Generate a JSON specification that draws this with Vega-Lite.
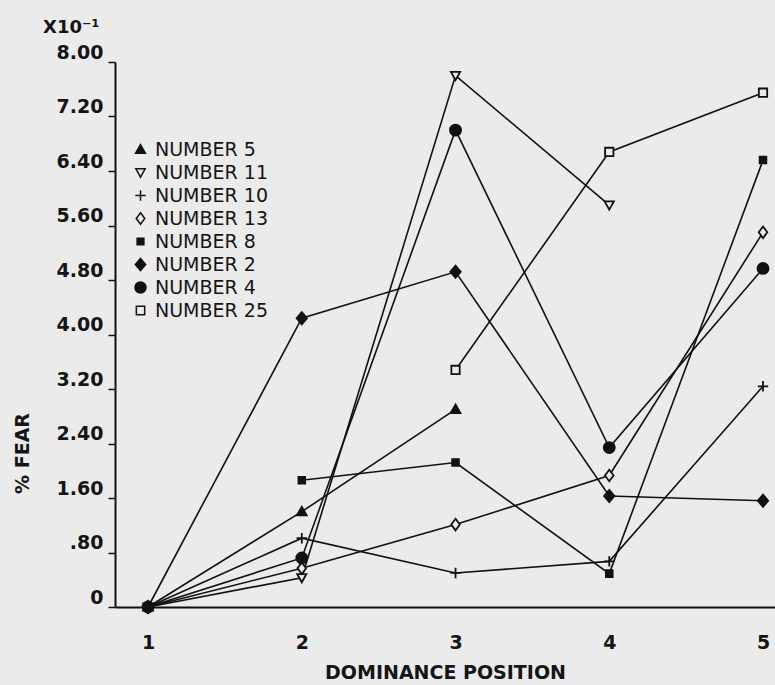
{
  "$schema": "https://vega.github.io/schema/vega-lite/v6.json",
  "width": 660,
  "height": 545,
  "autosize": "none",
  "padding": {"left": 115, "top": 62, "right": 0, "bottom": 78},
  "background": "#ebebeb",
  "title": {
    "text": "X10⁻¹",
    "anchor": "start",
    "frame": "group",
    "dx": -72,
    "offset": 6,
    "font": "DejaVu Sans",
    "fontSize": 18,
    "fontWeight": "bold",
    "color": "#151515"
  },
  "config": {
    "view": {"stroke": null},
    "axis": {
      "grid": false,
      "domainColor": "#111",
      "domainWidth": 2,
      "tickColor": "#111",
      "tickWidth": 1.5,
      "labelFont": "DejaVu Sans",
      "labelFontSize": 19,
      "labelFontWeight": "bold",
      "labelColor": "#151515",
      "titleFont": "DejaVu Sans",
      "titleFontSize": 19,
      "titleFontWeight": "bold",
      "titleColor": "#151515"
    }
  },
  "data": {
    "values": [
      {"series": "NUMBER 5", "pos": 1, "fear": 0},
      {"series": "NUMBER 5", "pos": 2, "fear": 1.40},
      {"series": "NUMBER 5", "pos": 3, "fear": 2.90},
      {"series": "NUMBER 11", "pos": 1, "fear": 0},
      {"series": "NUMBER 11", "pos": 2, "fear": 0.43},
      {"series": "NUMBER 11", "pos": 3, "fear": 7.80},
      {"series": "NUMBER 11", "pos": 4, "fear": 5.90},
      {"series": "NUMBER 10", "pos": 1, "fear": 0},
      {"series": "NUMBER 10", "pos": 2, "fear": 1.01},
      {"series": "NUMBER 10", "pos": 3, "fear": 0.50},
      {"series": "NUMBER 10", "pos": 4, "fear": 0.67},
      {"series": "NUMBER 10", "pos": 5, "fear": 3.24},
      {"series": "NUMBER 13", "pos": 1, "fear": 0},
      {"series": "NUMBER 13", "pos": 2, "fear": 0.57},
      {"series": "NUMBER 13", "pos": 3, "fear": 1.21},
      {"series": "NUMBER 13", "pos": 4, "fear": 1.93},
      {"series": "NUMBER 13", "pos": 5, "fear": 5.50},
      {"series": "NUMBER 8", "pos": 2, "fear": 1.86},
      {"series": "NUMBER 8", "pos": 3, "fear": 2.12},
      {"series": "NUMBER 8", "pos": 4, "fear": 0.49},
      {"series": "NUMBER 8", "pos": 5, "fear": 6.56},
      {"series": "NUMBER 2", "pos": 1, "fear": 0},
      {"series": "NUMBER 2", "pos": 2, "fear": 4.24},
      {"series": "NUMBER 2", "pos": 3, "fear": 4.92},
      {"series": "NUMBER 2", "pos": 4, "fear": 1.63},
      {"series": "NUMBER 2", "pos": 5, "fear": 1.56},
      {"series": "NUMBER 4", "pos": 1, "fear": 0},
      {"series": "NUMBER 4", "pos": 2, "fear": 0.72},
      {"series": "NUMBER 4", "pos": 3, "fear": 7.00},
      {"series": "NUMBER 4", "pos": 4, "fear": 2.34},
      {"series": "NUMBER 4", "pos": 5, "fear": 4.97},
      {"series": "NUMBER 25", "pos": 3, "fear": 3.48},
      {"series": "NUMBER 25", "pos": 4, "fear": 6.68},
      {"series": "NUMBER 25", "pos": 5, "fear": 7.55}
    ]
  },
  "encoding": {
    "x": {
      "field": "pos",
      "type": "quantitative",
      "scale": {"domain": [0.785, 5.078], "nice": false, "zero": false},
      "axis": {
        "values": [1, 2, 3, 4, 5],
        "ticks": false,
        "labelPadding": 26,
        "title": "DOMINANCE POSITION",
        "titlePadding": 11
      }
    },
    "y": {
      "field": "fear",
      "type": "quantitative",
      "scale": {"domain": [0, 8], "nice": false},
      "axis": {
        "values": [0, 0.8, 1.6, 2.4, 3.2, 4.0, 4.8, 5.6, 6.4, 7.2, 8.0],
        "labelExpr": "datum.value == 0 ? '0' : (datum.value < 1 ? '.' + slice(format(datum.value, '.2f'), 2) : format(datum.value, '.2f'))",
        "labelBaseline": "bottom",
        "tickSize": 7,
        "labelPadding": 5,
        "title": "% FEAR",
        "titleX": -93,
        "titleY": 391,
        "titleAngle": -90,
        "titleAlign": "center",
        "titleBaseline": "middle"
      }
    }
  },
  "layer": [
    {
      "mark": {"type": "line", "color": "#111", "strokeWidth": 1.6},
      "encoding": {
        "detail": {"field": "series", "type": "nominal"},
        "order": {"field": "pos", "type": "quantitative"}
      }
    },
    {
      "mark": {"type": "point", "filled": true, "stroke": "#111", "strokeWidth": 1.8, "size": 150, "opacity": 1},
      "encoding": {
        "shape": {
          "field": "series",
          "type": "nominal",
          "scale": {
            "domain": ["NUMBER 5", "NUMBER 11", "NUMBER 10", "NUMBER 13", "NUMBER 8", "NUMBER 2", "NUMBER 4", "NUMBER 25"],
            "range": [
              "M0,-0.8L0.8,0.6L-0.8,0.6Z",
              "M-0.75,-0.6L0.75,-0.6L0,0.75Z",
              "M-0.85,0L0.85,0M0,-0.85L0,0.85",
              "M0,-0.95L0.7,0L0,0.95L-0.7,0Z",
              "M-0.55,-0.55L0.55,-0.55L0.55,0.55L-0.55,0.55Z",
              "M0,-1L0.85,0L0,1L-0.85,0Z",
              "M-0.9,0A0.9,0.9,0,1,1,0.9,0A0.9,0.9,0,1,1,-0.9,0Z",
              "M-0.68,-0.68L0.68,-0.68L0.68,0.68L-0.68,0.68Z"
            ]
          },
          "legend": {
            "title": null,
            "orient": "none",
            "legendX": 16,
            "legendY": 78,
            "labelFont": "DejaVu Sans",
            "labelFontSize": 19,
            "labelColor": "#151515",
            "labelOffset": 5,
            "symbolSize": 150,
            "rowPadding": 3,
            "encode": {
              "symbols": {
                "update": {
                  "stroke": {"value": "#111"},
                  "strokeWidth": {"value": 1.8}
                }
              }
            }
          }
        },
        "fill": {
          "field": "series",
          "type": "nominal",
          "scale": {
            "domain": ["NUMBER 5", "NUMBER 11", "NUMBER 10", "NUMBER 13", "NUMBER 8", "NUMBER 2", "NUMBER 4", "NUMBER 25"],
            "range": ["#111", "#ebebeb", "transparent", "#ebebeb", "#111", "#111", "#111", "#ebebeb"]
          },
          "legend": {
            "title": null,
            "orient": "none",
            "legendX": 16,
            "legendY": 78,
            "labelFont": "DejaVu Sans",
            "labelFontSize": 19,
            "labelColor": "#151515",
            "labelOffset": 5,
            "symbolSize": 150,
            "rowPadding": 3,
            "encode": {
              "symbols": {
                "update": {
                  "stroke": {"value": "#111"},
                  "strokeWidth": {"value": 1.8}
                }
              }
            }
          }
        }
      }
    }
  ]
}
